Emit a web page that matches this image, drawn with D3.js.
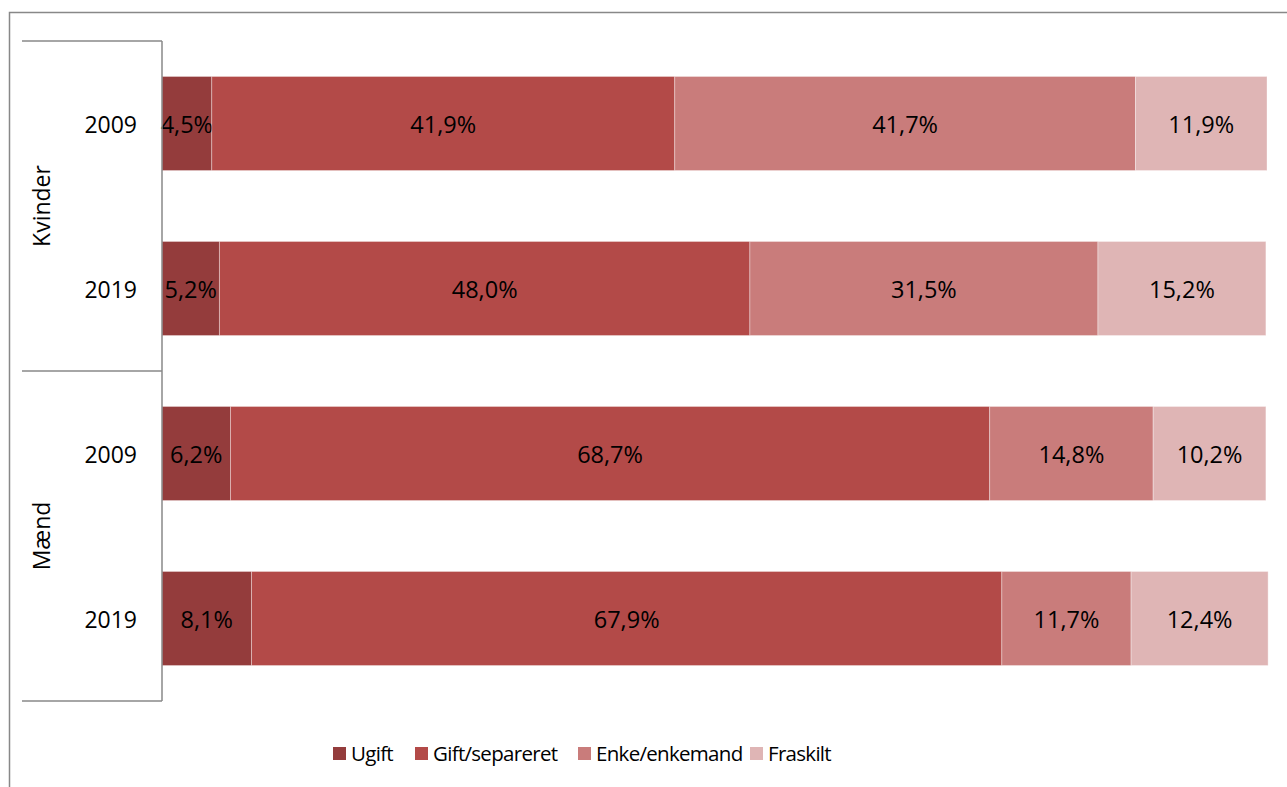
<!DOCTYPE html>
<html>
<head>
<meta charset="utf-8">
<script src="https://cdn.jsdelivr.net/npm/d3@7"></script>
<style>
  body { margin: 0; background: #fff; }
  svg text { font-family: "Open Sans", sans-serif; fill: #000; }
</style>
</head>
<body>
<svg id="chart"></svg>
<script>
// data
const groups = ["Kvinder", "Mænd"];
const years = ["2009", "2019"];
const rows = ["Kvinder 2009", "Kvinder 2019", "Mænd 2009", "Mænd 2019"];
const series = ["Ugift", "Gift/separeret", "Enke/enkemand", "Fraskilt"];
const ugift = [4.5, 5.2, 6.2, 8.1];
const gift = [41.9, 48.0, 68.7, 67.9];
const enke = [41.7, 31.5, 14.8, 11.7];
const fraskilt = [11.9, 15.2, 10.2, 12.4];
const colors = ["#943c3c", "#b34a48", "#c97c7b", "#dfb5b5"];

function barchart(){
    const width = 1287, height = 787;
    const svg = d3.select("#chart")
        .attr("width", width)
        .attr("height", height);

    // outer frame, runs off the right and bottom edge
    svg.append("rect")
        .attr("x", 9.5).attr("y", 12.5)
        .attr("width", 1300).attr("height", 800)
        .attr("fill", "none")
        .attr("stroke", "#888").attr("stroke-width", 1.5);

    const x = d3.scaleLinear().domain([0, 100]).range([162, 1267]);
    const y = d3.scaleBand().domain(rows).range([41, 701]).paddingInner(0.43).paddingOuter(0.215);

    const table = rows.map((r, i) => ({
        row: r, group: groups[Math.floor(i / 2)], year: years[i % 2],
        values: [ugift[i], gift[i], enke[i], fraskilt[i]]
    }));
    const stack = d3.stack().keys(d3.range(series.length))
        .value((d, k) => d.values[k]);
    const layers = stack(table);

    const fmt = v => d3.format(".1f")(v).replace(".", ",") + "%";

    const layer = svg.append("g").selectAll("g")
        .data(layers).enter().append("g")
        .attr("fill", (d, i) => colors[i]);

    layer.selectAll("rect")
        .data(d => d).enter().append("rect")
        .attr("x", d => x(d[0]))
        .attr("y", d => y(d.data.row))
        .attr("width", d => x(d[1]) - x(d[0]))
        .attr("height", y.bandwidth())
        .attr("stroke", "rgba(255,255,255,0.35)")
        .attr("stroke-width", 1);

    layer.selectAll("text")
        .data(d => d).enter().append("text")
        .attr("x", d => (x(d[0]) + x(d[1])) / 2)
        .attr("y", d => y(d.data.row) + y.bandwidth() / 2)
        .attr("dy", "0.42em")
        .attr("text-anchor", "middle")
        .style("font-size", "23.5px")
        .text(d => fmt(d[1] - d[0]));

    // category axis with two levels
    const ax = svg.append("g").attr("stroke", "#888").attr("stroke-width", 1.5).attr("fill", "none");
    ax.append("line").attr("x1", 162).attr("x2", 162).attr("y1", 41).attr("y2", 701);
    [41, 371, 701].forEach(v => {
        ax.append("line").attr("x1", 22).attr("x2", 162).attr("y1", v).attr("y2", v);
    });

    svg.append("g").selectAll("text")
        .data(table).enter().append("text")
        .attr("x", 137)
        .attr("y", d => y(d.row) + y.bandwidth() / 2)
        .attr("dy", "0.42em")
        .attr("text-anchor", "end")
        .style("font-size", "23px")
        .text(d => d.year);

    svg.append("g").selectAll("text")
        .data(groups).enter().append("text")
        .attr("transform", (d, i) => "translate(42," + (206 + i * 330) + ") rotate(-90)")
        .attr("dy", "0.35em")
        .attr("text-anchor", "middle")
        .style("font-size", "23px")
        .text(d => d);

    // legend
    const legX = [333, 415, 578, 750];
    const legend = svg.append("g").selectAll("g")
        .data(series).enter().append("g")
        .attr("transform", (d, i) => "translate(" + legX[i] + ",753)");
    legend.append("rect")
        .attr("x", 0).attr("y", -6)
        .attr("width", 13).attr("height", 13)
        .attr("fill", (d, i) => colors[i]);
    legend.append("text")
        .attr("x", 18).attr("dy", "0.38em")
        .style("font-size", "20.5px")
        .style("letter-spacing", "-0.7px")
        .text(d => d);
}
barchart();
</script>
</body>
</html>
